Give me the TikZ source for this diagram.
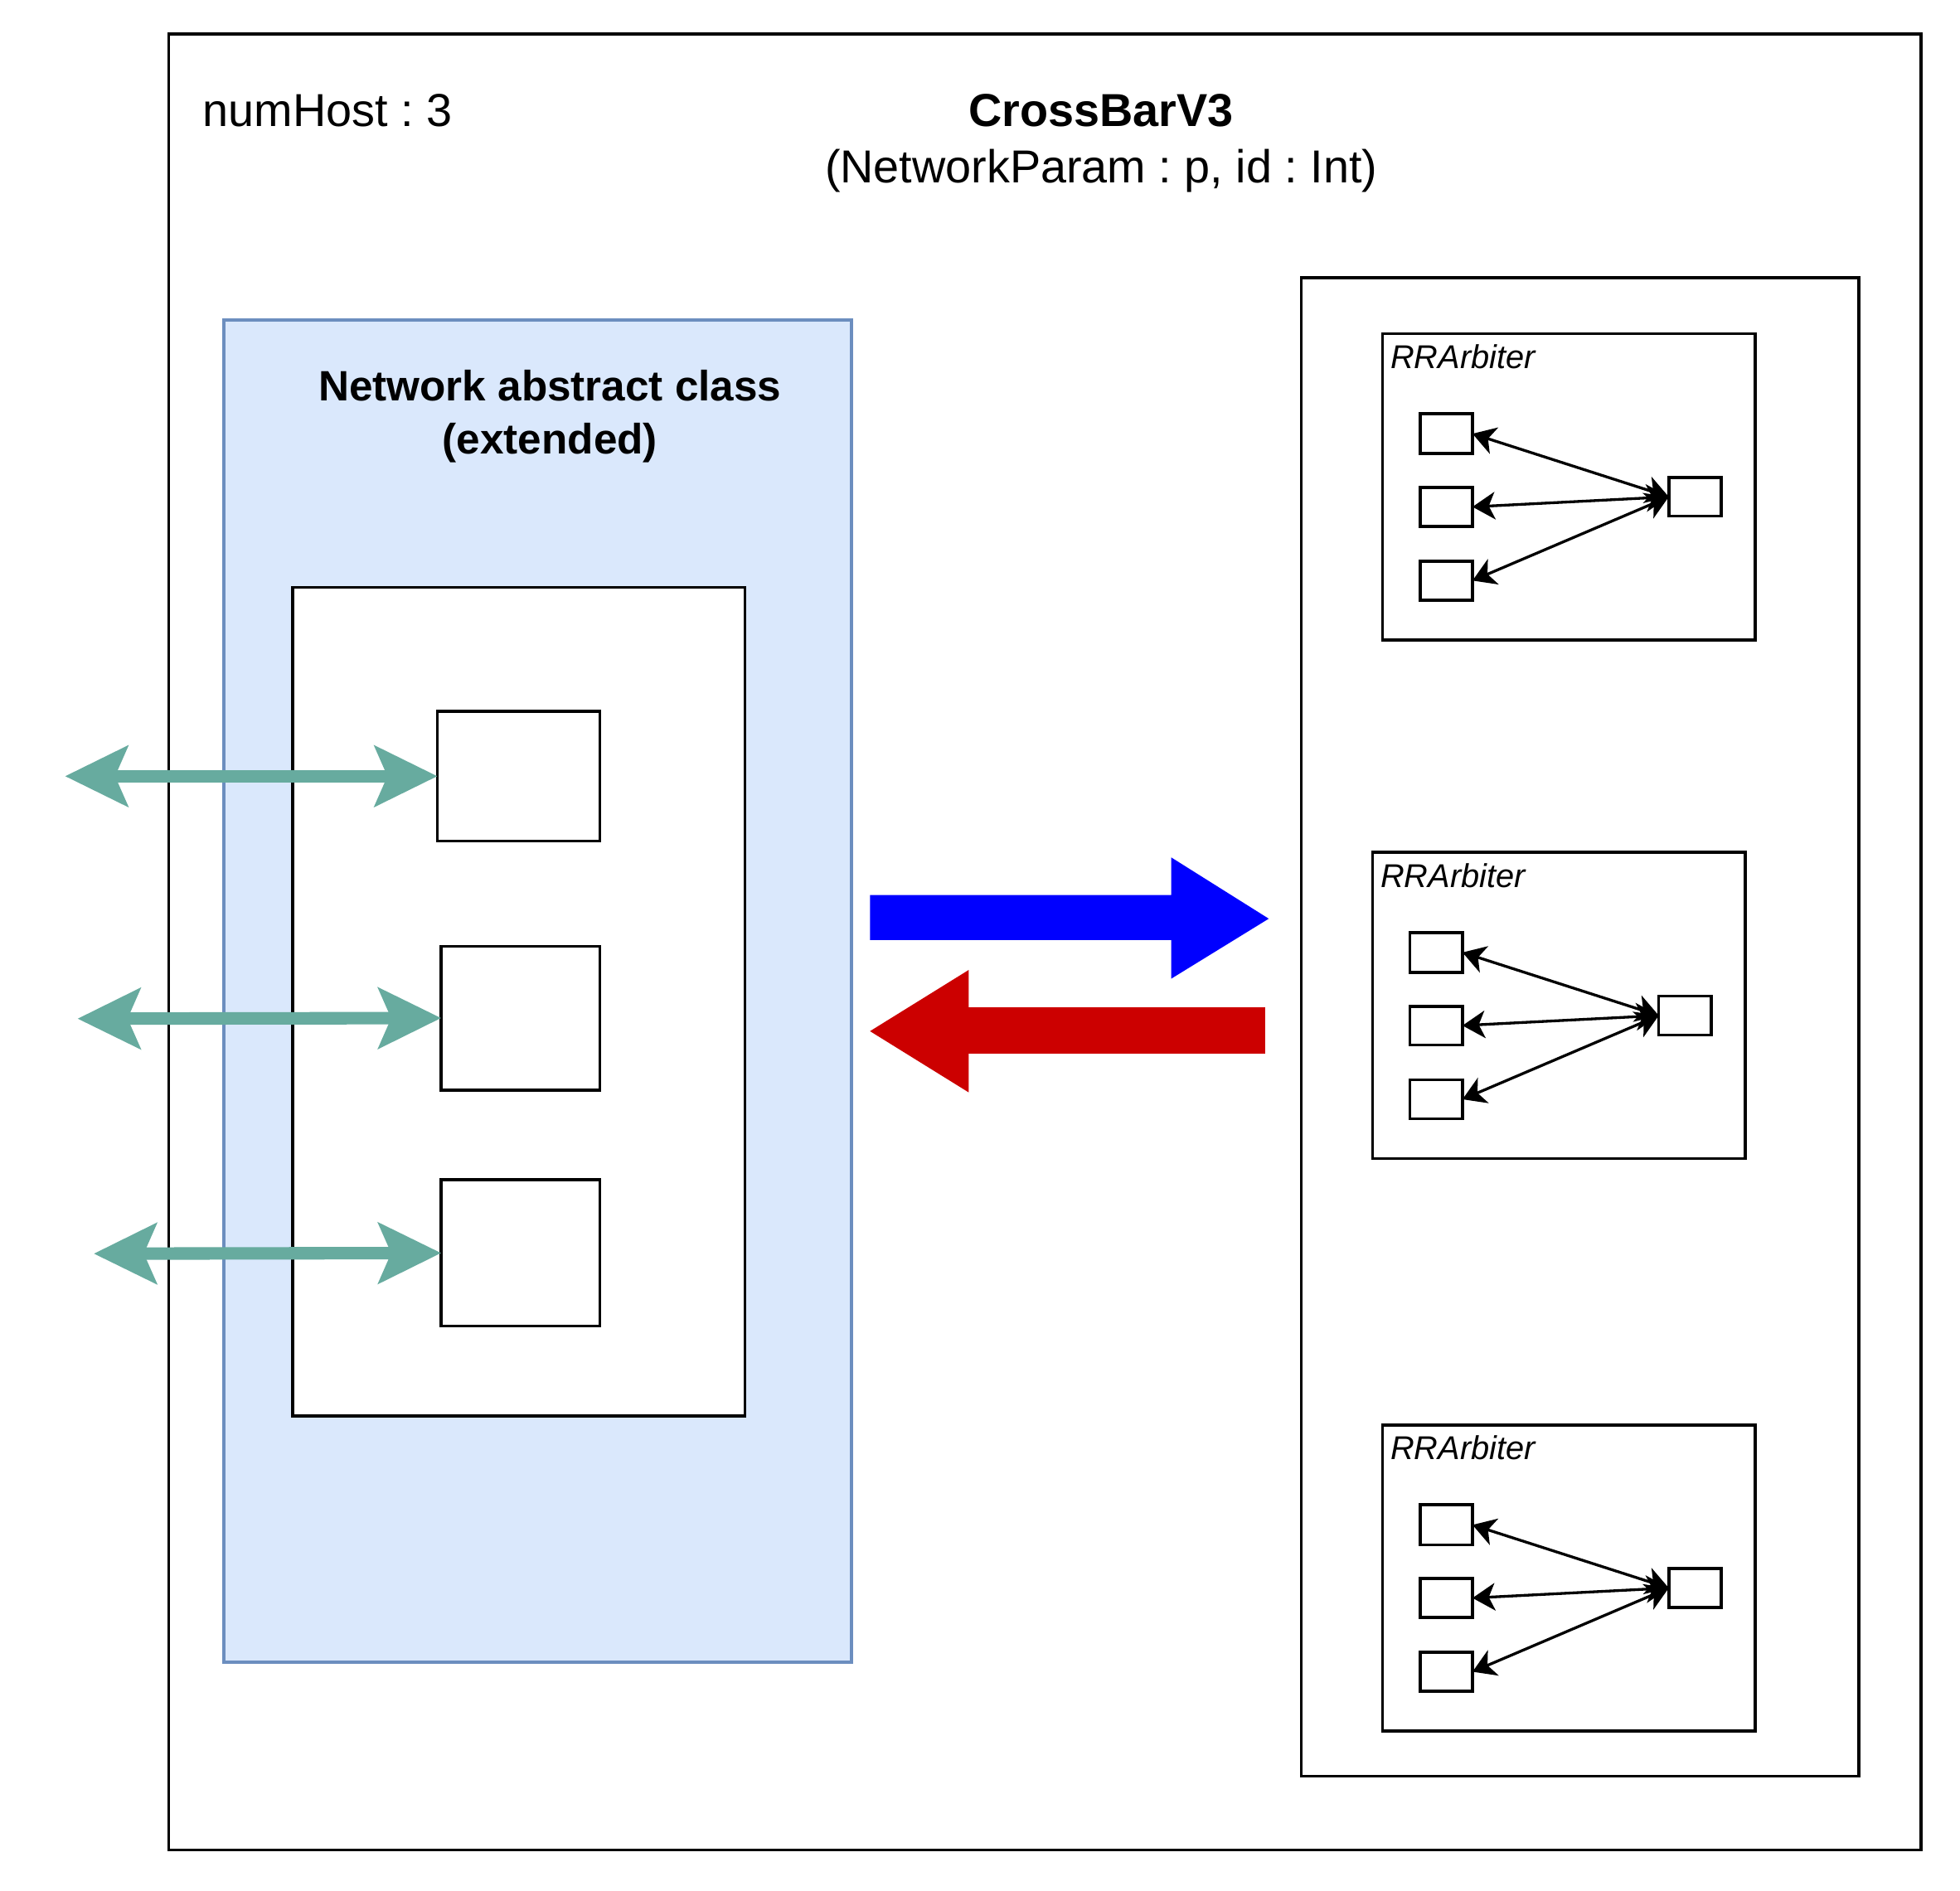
\documentclass[tikz,border=0pt]{standalone}
\usepackage{fontspec}
\setmainfont{Liberation Sans}
\usetikzlibrary{arrows.meta}
\definecolor{netfill}{HTML}{DAE8FC}
\definecolor{netdraw}{HTML}{6C8EBF}
\definecolor{hostgreen}{HTML}{67AB9F}
\definecolor{respred}{HTML}{CC0000}
\definecolor{reqblue}{HTML}{0000FF}
\frenchspacing
\begin{document}
\begin{tikzpicture}[x=0.5pt,y=-0.5pt,
  box/.style 2 args={draw=black, line width=1.2pt, fill=white, inner sep=0pt, outer sep=0pt,
    anchor=north west, minimum width=#1*0.5pt, minimum height=#2*0.5pt},
  netbox/.style 2 args={box={#1}{#2}, draw=netdraw, fill=netfill},
  hostarrow/.style={draw=hostgreen, line width=5pt,
    {Stealth[length=25pt,width=24pt,inset=5pt]}-{Stealth[length=25pt,width=24pt,inset=5pt]}},
  arbarrow/.style={draw=black, line width=1.1pt,
    {Stealth[length=9pt,width=11pt,inset=2.5pt]}-{Stealth[length=9pt,width=11pt,inset=2.5pt]}},
  maintext/.style={font=\fontsize{18.5pt}{22pt}\selectfont, inner sep=0pt},
  arbtext/.style={font=\fontsize{13.2pt}{16pt}\selectfont\itshape, inner sep=0pt, anchor=base west}
]
\useasboundingbox (0,0) rectangle (1568,1512.3);

% outer box
\node[box={1402}{1453}] (outer) at (135,27) {};
\node[maintext, anchor=base west] (numhost) at (162,101) {numHost : 3};
\node[maintext, anchor=base, font=\fontsize{18.5pt}{22pt}\selectfont\bfseries] (title) at (881,101) {CrossBarV3};
\node[maintext, anchor=base] (params) at (881,146) {(NetworkParam : p, id : Int)};

% network abstract class
\node[netbox={502}{1074}] (net) at (179,256) {};
\node[inner sep=0pt, anchor=base, font=\fontsize{17pt}{21pt}\selectfont\bfseries] (nettitle) at (440,321) {Network abstract class};
\node[inner sep=0pt, anchor=base, font=\fontsize{17pt}{21pt}\selectfont\bfseries] (netsub) at (440,363) {(extended)};
\node[box={362}{663}] (inner) at (234,470) {};
\node[box={130}{104}] (p1) at (350,569) {};
\node[box={127}{115}] (p2) at (353,757) {};
\node[box={127}{117}] (p3) at (353,944) {};

% host connectors
\coordinate (h1) at (52,621);
\coordinate (h2) at (62,815);
\coordinate (h3) at (75,1003);
\draw[hostarrow] (h1) -- (p1.west);
\draw[hostarrow] (h2) -- (p2.west);
\draw[hostarrow] (h3) -- (p3.west);

% request / response arrows
\fill[reqblue] (696,716) -- (937,716) -- (937,686) -- (1015,735) -- (937,783) -- (937,752) -- (696,752) -- cycle;
\fill[respred] (1012,806) -- (775,806) -- (775,776) -- (696,825) -- (775,874) -- (775,843) -- (1012,843) -- cycle;

% crossbar side
\node[box={446}{1199}] (xbar) at (1041,222) {};
\foreach \i/\bx/\by in {1/1106/267, 2/1098/682, 3/1106/1140} {
  \node[box={298}{245}] (arb\i) at (\bx,\by) {};
  \node[arbtext] (arb\i t) at (\bx+6,\by+28) {RRArbiter};
  \node[box={42}{32}] (arb\i l1) at (\bx+30,\by+64) {};
  \node[box={42}{31}] (arb\i l2) at (\bx+30,\by+123) {};
  \node[box={42}{31}] (arb\i l3) at (\bx+30,\by+182) {};
  \node[box={42}{31}] (arb\i r) at (\bx+229,\by+115) {};
  \draw[arbarrow] (arb\i l1.east) -- (arb\i r.west);
  \draw[arbarrow] (arb\i l2.east) -- (arb\i r.west);
  \draw[arbarrow] (arb\i l3.east) -- (arb\i r.west);
}
\end{tikzpicture}
\end{document}
